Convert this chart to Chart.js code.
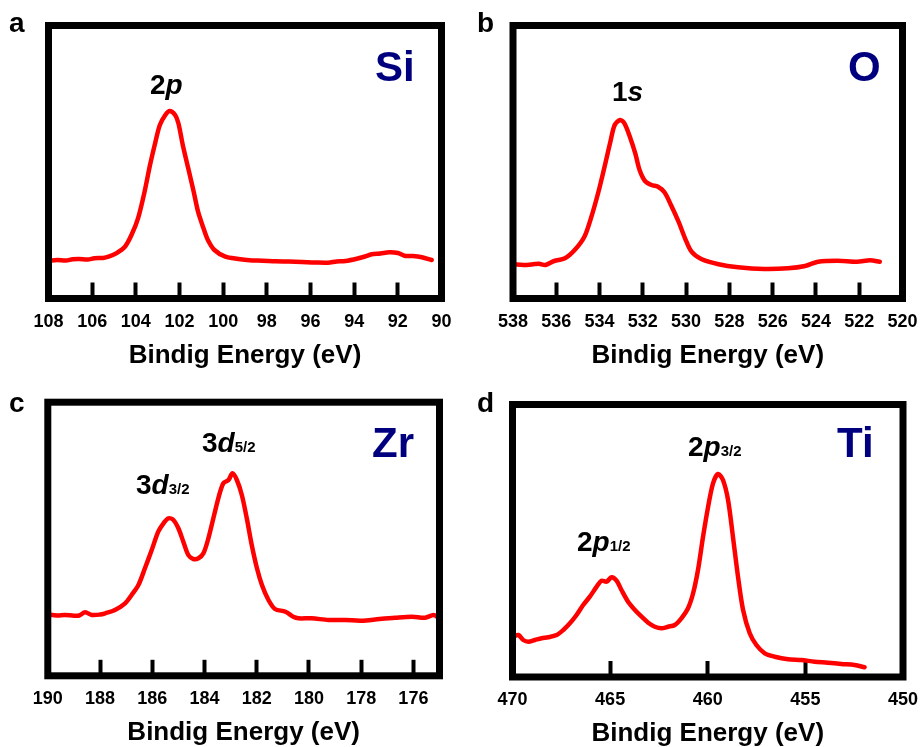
<!DOCTYPE html>
<html>
<head>
<meta charset="utf-8">
<script src="https://cdn.jsdelivr.net/npm/chart.js@4.4.1/dist/chart.umd.min.js"></script>
<style>
  body { margin: 0; background: #fff; width: 921px; height: 747px; position: relative; overflow: hidden; }
  canvas { position: absolute; }
  .lbl { position: absolute; line-height: 1; white-space: nowrap; font-weight: bold;
         font-family: 'Liberation Sans', Arial, sans-serif; color: #000; }
  .lbl i { font-style: italic; }
  .lbl small { font-size: 15px; }
  .el { color: #00007f; }
</style>
</head>
<body>
<canvas id="chart-si"></canvas>
<canvas id="chart-o"></canvas>
<canvas id="chart-zr"></canvas>
<canvas id="chart-ti"></canvas>
<script>
// XPS spectra (binding energy in eV, intensity in a.u.)
const siEnergy = [108.0, 107.6, 107.2, 106.9, 106.6, 106.2, 105.9, 105.5, 105.25, 104.9, 104.5, 104.2, 103.9, 103.6, 103.35, 103.1, 102.9, 102.65, 102.45, 102.2, 102.05, 101.85, 101.6, 101.35, 101.15, 100.9, 100.7, 100.4, 99.9, 99.3, 98.8, 98.2, 97.6, 97.0, 96.4, 95.8, 95.2, 94.8, 94.4, 93.8, 93.5, 93.2, 92.8, 92.4, 92.0, 91.7, 91.3, 90.9, 90.45];
const siCounts = [37.8, 38.6, 38.0, 39.2, 39.5, 39.0, 40.2, 40.6, 41.8, 45.2, 51.8, 63.5, 80.2, 106.8, 133.5, 156.8, 173.5, 183.5, 187.5, 183.5, 175.2, 153.5, 130.2, 106.8, 86.8, 70.2, 58.5, 48.5, 41.8, 39.5, 38.2, 37.8, 37.2, 36.9, 36.5, 36.0, 35.8, 37.0, 37.5, 40.2, 42.0, 44.2, 45.0, 46.2, 45.5, 42.8, 42.5, 41.2, 38.5];
const siTicks = [108, 106, 104, 102, 100, 98, 96, 94, 92, 90];

const oEnergy = [538.0, 537.5, 537.0, 536.8, 536.5, 536.1, 535.6, 535.15, 534.7, 534.4, 534.05, 533.75, 533.5, 533.3, 533.05, 532.85, 532.6, 532.35, 532.15, 531.9, 531.6, 531.3, 531.0, 530.7, 530.35, 530.05, 529.75, 529.3, 528.5, 527.6, 526.4, 525.3, 524.5, 523.9, 523.0, 522.1, 521.5, 521.05];
const oCounts = [34.2, 33.5, 34.4, 34.8, 33.5, 37.5, 40.2, 48.5, 61.8, 80.2, 106.8, 133.5, 156.8, 173.5, 178.5, 175.2, 161.8, 145.2, 128.5, 117.5, 113.5, 111.8, 106.2, 93.5, 76.8, 60.2, 46.8, 39.5, 34.2, 31.2, 29.5, 30.2, 32.5, 36.8, 37.8, 36.8, 38.2, 36.8];
const oTicks = [538, 536, 534, 532, 530, 528, 526, 524, 522, 520];

const zrEnergy = [190.0, 189.65, 189.35, 189.0, 188.8, 188.57, 188.32, 188.0, 187.8, 187.43, 187.04, 186.79, 186.53, 186.28, 186.02, 185.77, 185.57, 185.38, 185.19, 185.0, 184.81, 184.62, 184.43, 184.23, 184.04, 183.85, 183.66, 183.47, 183.28, 183.08, 182.93, 182.76, 182.57, 182.38, 182.19, 181.99, 181.8, 181.55, 181.3, 180.9, 180.6, 180.4, 179.9, 179.25, 178.6, 178.0, 177.3, 176.7, 176.05, 175.55, 175.23, 175.04];
const zrCounts = [61.5, 60.4, 60.8, 60.1, 60.3, 63.5, 60.8, 61.2, 62.5, 65.8, 72.5, 80.8, 90.8, 107.5, 125.8, 144.1, 152.5, 157.5, 155.8, 147.5, 134.1, 120.8, 116.8, 117.5, 122.5, 137.5, 157.5, 177.5, 192.5, 195.8, 202.5, 195.8, 180.8, 157.5, 130.8, 107.5, 90.8, 75.8, 66.8, 64.1, 59.0, 57.5, 57.5, 55.8, 55.8, 55.1, 56.8, 58.1, 59.1, 58.1, 60.8, 58.1];
const zrTicks = [190, 188, 186, 184, 182, 180, 178, 176];

const tiEnergy = [469.96, 469.7, 469.45, 469.19, 468.85, 468.51, 468.17, 467.74, 467.4, 467.06, 466.72, 466.38, 466.04, 465.69, 465.44, 465.18, 464.93, 464.67, 464.42, 464.08, 463.73, 463.39, 463.05, 462.71, 462.37, 462.03, 461.69, 461.35, 461.01, 460.75, 460.5, 460.24, 459.98, 459.73, 459.47, 459.22, 458.96, 458.71, 458.45, 458.19, 457.85, 457.51, 457.08, 456.57, 455.89, 455.21, 454.53, 453.85, 453.16, 452.48, 451.97];
const tiCounts = [40.3, 42, 37, 35.3, 37, 38.7, 39.7, 42, 47, 53.7, 62, 72, 80.3, 90.3, 96.3, 95.3, 99.7, 96.3, 87, 75.3, 67, 60.3, 54.3, 50.3, 48.7, 50.3, 52, 58.7, 68.7, 83.7, 107, 140.3, 170.3, 193.7, 203, 197, 177, 140.3, 100.3, 67, 43.7, 32, 23.7, 20.3, 17.7, 17, 15.3, 14.3, 13, 12, 9.7];
const tiTicks = [470, 465, 460, 455, 450];

const FONT = "'Liberation Sans', Arial, sans-serif";
const TICK_LEN = 16;

// thick black box round the plot area
const framePlugin = {
  id: 'frame',
  afterDraw(chart) {
    const { ctx, chartArea: a } = chart;
    ctx.save();
    ctx.lineWidth = 7;
    ctx.strokeStyle = '#000';
    ctx.strokeRect(a.left, a.top, a.right - a.left, a.bottom - a.top);
    ctx.restore();
  }
};

function makePanel(id, box, area, labelMid, titleMid, xMin, xMax, ticks, energy, counts) {
  const canvas = document.getElementById(id);
  canvas.width = box.w;
  canvas.height = box.h;
  canvas.style.left = box.l + 'px';
  canvas.style.top = box.t + 'px';

  const scaleBottom = titleMid + 26 * 0.9 / 2;
  const axisH = scaleBottom - area.y1;
  const tickPad = labelMid - area.y1 - 18 * 1.2 / 2 + TICK_LEN;

  return new Chart(canvas.getContext('2d'), {
    type: 'scatter',
    data: {
      datasets: [{
        data: energy.map((e, i) => ({ x: e, y: counts[i] })),
        showLine: true,
        borderColor: '#ff0000',
        borderWidth: 4.5,
        pointRadius: 0,
        tension: 0.3,
        borderJoinStyle: 'round',
        borderCapStyle: 'round',
      }],
    },
    options: {
      responsive: false,
      animation: false,
      events: [],
      layout: {
        padding: {
          left: area.x0 - box.l,
          right: box.l + box.w - area.x1,
          top: area.y0 - box.t,
          bottom: box.t + box.h - scaleBottom,
        },
      },
      plugins: { legend: { display: false }, tooltip: { enabled: false } },
      scales: {
        x: {
          type: 'linear',
          reverse: true,
          min: xMin,
          max: xMax,
          afterBuildTicks: s => { s.ticks = ticks.map(v => ({ value: v })); },
          // fixed axis height; the layout padding already leaves room for edge labels
          afterFit: s => { s.height = axisH; s.paddingLeft = 0; s.paddingRight = 0; },
          border: { display: false },
          grid: {
            drawOnChartArea: false,
            drawTicks: true,
            tickLength: -TICK_LEN,
            tickWidth: 4,
            tickColor: '#000',
          },
          ticks: {
            color: '#000',
            padding: tickPad,
            autoSkip: false,
            maxRotation: 0,
            font: { family: FONT, size: 18, weight: 'bold' },
          },
          title: {
            display: true,
            text: 'Bindig Energy (eV)',
            color: '#000',
            padding: 0,
            font: { family: FONT, size: 26, weight: 'bold', lineHeight: 0.9 },
          },
        },
        y: { display: false, min: 0, max: area.y1 - area.y0 },
      },
    },
    plugins: [framePlugin],
  });
}

makePanel('chart-si', { l: 0, t: 0, w: 460, h: 375 }, { x0: 48.5, x1: 441.5, y0: 25.5, y1: 298.5 },
  322, 356, 90, 108, siTicks, siEnergy, siCounts);
makePanel('chart-o', { l: 460, t: 0, w: 461, h: 375 }, { x0: 513, x1: 902.5, y0: 25.5, y1: 298.5 },
  322, 356, 520, 538, oTicks, oEnergy, oCounts);
makePanel('chart-zr', { l: 0, t: 375, w: 460, h: 372 }, { x0: 47.8, x1: 439.5, y0: 402.2, y1: 675.8 },
  698.8, 732.7, 175, 190, zrTicks, zrEnergy, zrCounts);
makePanel('chart-ti', { l: 460, t: 375, w: 461, h: 372 }, { x0: 512.5, x1: 903, y0: 404.5, y1: 677 },
  700.5, 734.3, 450, 470, tiTicks, tiEnergy, tiCounts);

// text placed by its baseline
function addText(html, left, baseline, size, cls) {
  const el = document.createElement('div');
  el.className = 'lbl' + (cls ? ' ' + cls : '');
  el.style.fontSize = size + 'px';
  el.style.left = left + 'px';
  el.style.top = (baseline - 0.8465 * size) + 'px';
  el.innerHTML = html;
  document.body.appendChild(el);
}

addText('a', 9, 33, 28);
addText('b', 477, 33, 28);
addText('c', 9, 413, 28);
addText('d', 477, 413, 28);

addText('Si', 375, 82, 42, 'el');
addText('O', 848, 82, 42, 'el');
addText('Zr', 372, 458, 42, 'el');
addText('Ti', 837, 458, 42, 'el');

addText('2<i>p</i>', 150, 95, 28);
addText('1<i>s</i>', 612, 101.7, 28);
addText('3<i>d</i><small>3/2</small>', 136, 495, 28);
addText('3<i>d</i><small>5/2</small>', 202, 453, 28);
addText('2<i>p</i><small>3/2</small>', 688, 457, 28);
addText('2<i>p</i><small>1/2</small>', 577, 552, 28);
</script>
</body>
</html>
